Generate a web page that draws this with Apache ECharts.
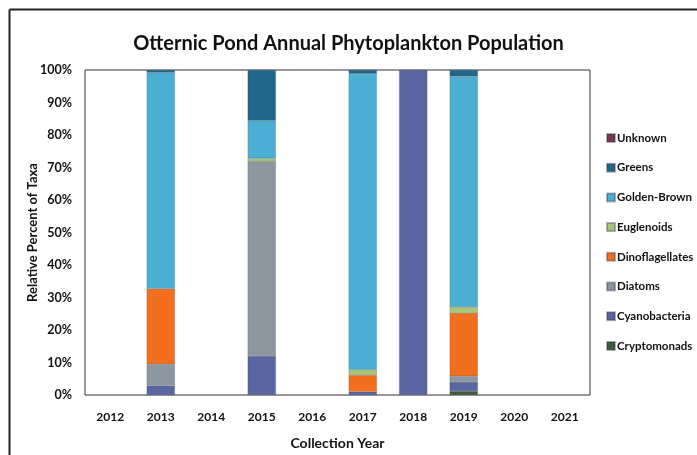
<!DOCTYPE html>
<html>
<head>
<meta charset="utf-8">
<script src="https://cdn.jsdelivr.net/npm/echarts@6/dist/echarts.min.js"></script>
<style>
  html, body { margin: 0; padding: 0; background: #fff; }
  #chart { width: 697px; height: 455px; }
</style>
</head>
<body>
<div id="chart"></div>
<script>
// Collection years on the category axis
const years = ['2012', '2013', '2014', '2015', '2016', '2017', '2018', '2019', '2020', '2021'];

// Relative percent of each taxon per year (null = none recorded)
const cryptomonads    = [null, null, null, null, null, null, null, 1.2,  null, null];
const cyanobacteria   = [null, 2.9,  null, 12.0, null, 1.0,  100,  2.8,  null, null];
const diatoms         = [null, 6.6,  null, 59.9, null, null, null, 1.8,  null, null];
const dinoflagellates = [null, 23.2, null, null, null, 5.1,  null, 19.4, null, null];
const euglenoids      = [null, null, null, 0.9,  null, 1.7,  null, 1.9,  null, null];
const goldenBrown     = [null, 66.5, null, 11.6, null, 91.0, null, 70.9, null, null];
const greens          = [null, 0.8,  null, 15.6, null, 1.2,  null, 2.0,  null, null];
const unknown         = [null, null, null, null, null, null, null, null, null, null];

const yTicks = [0, 10, 20, 30, 40, 50, 60, 70, 80, 90, 100];

const taxa = [
  { name: 'Cryptomonads',    data: cryptomonads,    color: '#3d5c3a' },
  { name: 'Cyanobacteria',   data: cyanobacteria,   color: '#5866a2' },
  { name: 'Diatoms',         data: diatoms,         color: '#8d979f' },
  { name: 'Dinoflagellates', data: dinoflagellates, color: '#f26f1f' },
  { name: 'Euglenoids',      data: euglenoids,      color: '#a8c77a' },
  { name: 'Golden-Brown',    data: goldenBrown,     color: '#4aafd3' },
  { name: 'Greens',          data: greens,          color: '#20678c' },
  { name: 'Unknown',         data: unknown,         color: '#7a3b52' }
];

const font = 'Lato, "Open Sans", sans-serif';
const chart = echarts.init(document.getElementById('chart'), null, { renderer: 'canvas' });

chart.setOption({
  animation: false,
  backgroundColor: '#ffffff',
  title: {
    text: 'Otternic Pond Annual Phytoplankton Population',
    left: 'center',
    top: 29,
    textStyle: { fontFamily: font, fontSize: 20, fontWeight: 'bold', color: '#111' }
  },
  graphic: [
    { type: 'line', shape: { x1: 9.5, y1: 9.5, x2: 697, y2: 9.5 }, style: { stroke: '#222', lineWidth: 2 } },
    { type: 'line', shape: { x1: 9.5, y1: 9.5, x2: 9.5, y2: 455 }, style: { stroke: '#222', lineWidth: 2 } }
  ],
  legend: {
    orient: 'vertical',
    left: 601,
    top: 127,
    itemWidth: 8,
    itemHeight: 8,
    itemGap: 17.7,
    icon: 'rect',
    data: taxa.map(t => t.name).reverse(),
    textStyle: { fontFamily: font, fontSize: 11.5, fontWeight: 'bold', color: '#111', padding: [0, 0, 0, -3] }
  },
  grid: {
    left: 85, top: 70, right: 107, bottom: 59,
    show: true, borderColor: '#333', borderWidth: 1
  },
  xAxis: {
    type: 'category',
    data: years,
    name: 'Collection Year',
    nameLocation: 'middle',
    nameGap: 41,
    nameMoveOverlap: false,
    nameTextStyle: { fontFamily: font, fontSize: 14, fontWeight: 'bold', color: '#111' },
    axisLine: { show: false },
    axisTick: { show: false },
    axisLabel: { fontFamily: font, fontSize: 12, fontWeight: 'bold', color: '#111', margin: 16 }
  },
  yAxis: {
    type: 'value',
    min: yTicks[0],
    max: yTicks[yTicks.length - 1],
    interval: 10,
    name: 'Relative Percent of Taxa',
    nameLocation: 'middle',
    nameGap: 46,
    nameMoveOverlap: false,
    nameTextStyle: { fontFamily: font, fontSize: 13, fontWeight: 'bold', color: '#111' },
    axisLine: { show: false },
    axisTick: { show: false },
    splitLine: { show: false },
    axisLabel: { fontFamily: font, fontSize: 12.5, fontWeight: 'bold', color: '#111', margin: 13, formatter: '{value}%' }
  },
  series: taxa.map(t => ({
    name: t.name,
    type: 'bar',
    stack: 'taxa',
    barWidth: '56%',
    data: t.data,
    itemStyle: { color: t.color, borderColor: 'rgba(40,40,60,0.35)', borderWidth: 0.5 }
  }))
});
</script>
</body>
</html>
